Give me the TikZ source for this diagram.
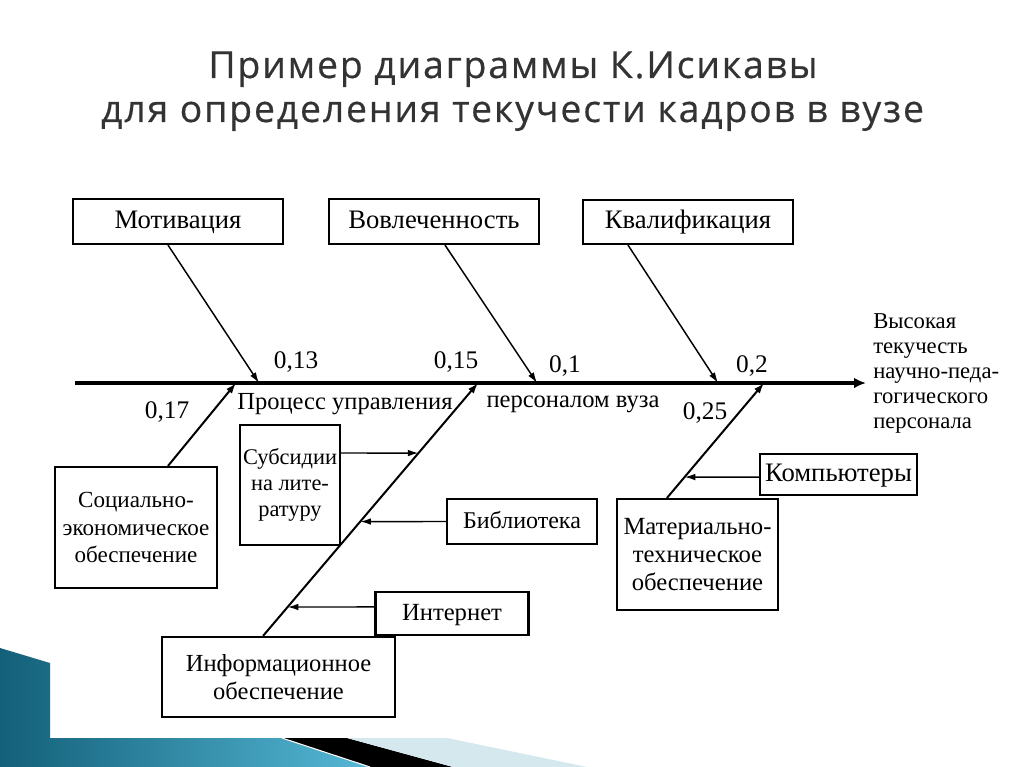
\documentclass[tikz,border=0pt]{standalone}
\usepackage{fontspec}
\setmainfont{Liberation Serif}
\newfontfamily\titlefont[LetterSpace=5,FakeBold=0.5]{Open Sans}
\usetikzlibrary{arrows.meta,calc,shapes.geometric}
\definecolor{titlegray}{HTML}{333333}
\definecolor{tealdark}{HTML}{136079}
\definecolor{teallight}{HTML}{55B8D6}
\definecolor{paleblue}{HTML}{D5E8EE}
\newcommand{\fs}[2]{\fontsize{#1}{#2}\selectfont}
\tikzset{
  box/.style={draw=black,line width=1.6pt,inner sep=0pt,align=center},
  single/.style={text height=13pt,text depth=3pt},
  lbl/.style={inner sep=0pt,font=\fontsize{19}{22}\selectfont},
  arr/.style={line width=1.1pt,-{Latex[length=8pt,width=5pt]}},
  diag/.style={line width=1.5pt,-{Latex[length=8pt,width=5.5pt]}},
  spine/.style={line width=3pt,-{Latex[length=9pt,width=8pt]}},
}
\begin{document}
\begin{tikzpicture}[x=0.75pt,y=-0.75pt]
\useasboundingbox (0,0) rectangle (1024,767);
\fill[white] (0,0) rectangle (1024,767);
% decoration
\shade[left color=tealdark,right color=teallight] (0,648) -- (50,663) -- (50,738) -- (282,738) -- (370,767) -- (0,767) -- cycle;
\fill[black] (282,738) -- (347,738) -- (453,767) -- (370,767) -- cycle;
\fill[paleblue] (347,738) -- (447,738) -- (587,767) -- (453,767) -- cycle;
\draw[white,line width=0.8pt] (282,738) -- (370,767);
% title
\node[anchor=base,text=titlegray,font=\titlefont\fontsize{28}{34}\selectfont,inner sep=0pt] (t1) at (513,78) {Пример диаграммы К.Исикавы};
\node[anchor=base,text=titlegray,font=\titlefont\fontsize{28}{34}\selectfont,inner sep=0pt] (t2) at (512.5,122) {для определения текучести кадров в вузе};
% spine
\coordinate (s0) at (75,383);
\coordinate (s1) at (866,383);
\draw[spine] (s0) -- (s1);
% top boxes
\node[box,single,font=\fs{20}{23},minimum width=157.5pt,minimum height=33.75pt] (mot) at (178,221.5) {Мотивация};
\node[box,single,font=\fs{20}{23},minimum width=157.5pt,minimum height=33.75pt] (vov) at (434,221.5) {Вовлеченность};
\node[box,single,font=\fs{20}{23},minimum width=157.5pt,minimum height=33pt] (kva) at (688,222) {Квалификация};
\coordinate (j1) at (259,383);
\coordinate (j2) at (537,383);
\coordinate (j3) at (718,383);
\draw[arr] ([xshift=-7.5pt]mot.south) -- (j1);
\draw[arr] ([xshift=8.25pt]vov.south) -- (j2);
\draw[arr] ([xshift=-45pt]kva.south) -- (j3);
% bottom boxes
\node[box,font=\fs{17.3}{20.5},minimum width=121.5pt,minimum height=90.75pt] (soc) at (136,527.5) {Социально-\\экономическое\\обеспечение};
\node[box,font=\fs{16.8}{19.5},minimum width=75pt,minimum height=90pt] (sub) at (290,485) {Субсидии\\на лите-\\ратуру};
\node[box,single,font=\fs{18}{21},minimum width=112.5pt,minimum height=33.75pt] (lib) at (522,521.5) {Библиотека};
\node[box,single,font=\fs{18.5}{21},minimum width=114.75pt,minimum height=32.25pt] (int) at (452,613.5) {Интернет};
\node[box,font=\fs{18.4}{21},minimum width=174.75pt,minimum height=60pt] (inf) at (278.5,677) {Информационное\\обеспечение};
\node[box,font=\fs{18.5}{21},minimum width=120.75pt,minimum height=83.25pt] (mat) at (697.5,554.5) {Материально-\\техническое\\обеспечение};
\node[box,single,font=\fs{20}{23},minimum width=117.75pt,minimum height=30.75pt] (comp) at (838.5,474.5) {Компьютеры};
\coordinate (j0) at (236,383);
\coordinate (j4) at (478,383);
\coordinate (j5) at (764,383);
\draw[diag] ([xshift=24pt]soc.north) -- (j0);
\coordinate (i0) at ([xshift=-11.6pt]inf.north);
\draw[diag] (i0) -- (j4);
\coordinate (m0) at ([xshift=-22.9pt]mat.north);
\draw[diag] (m0) -- (j5);
% twigs
\coordinate (subout) at ([yshift=24pt]sub.east);
\coordinate (e1) at (intersection of i0--j4 and subout--{[xshift=10pt]subout});
\draw[arr] (subout) -- (e1);
\coordinate (libin) at (lib.west);
\coordinate (e2) at (intersection of i0--j4 and libin--{[xshift=10pt]libin});
\draw[arr] (libin) -- (e2);
\coordinate (intin) at ([yshift=4.9pt]int.west);
\coordinate (e3) at (intersection of i0--j4 and intin--{[xshift=10pt]intin});
\draw[arr] (intin) -- (e3);
\coordinate (compin) at ([yshift=-1.9pt]comp.west);
\coordinate (e4) at (intersection of m0--j5 and compin--{[xshift=10pt]compin});
\draw[arr] (compin) -- (e4);
% labels
\node[lbl] (l13) at (296,362) {0,13};
\node[lbl] (l15) at (456,362) {0,15};
\node[lbl] (l1) at (565,366) {0,1};
\node[lbl] (l2) at (752,366) {0,2};
\node[lbl] (l17) at (167,412) {0,17};
\node[lbl] (l25) at (705,413) {0,25};
\node[lbl,font=\fs{18.4}{21}] (p1) at (345,404) {Процесс управления};
\node[lbl,font=\fs{18.4}{21}] (p2) at (573,404) {персоналом вуза};
\node[lbl,anchor=base west,align=left,font=\fs{17}{18.75}] (res) at (873,428) {Высокая\\текучесть\\научно-педа-\\гогического\\персонала};
\end{tikzpicture}
\end{document}
